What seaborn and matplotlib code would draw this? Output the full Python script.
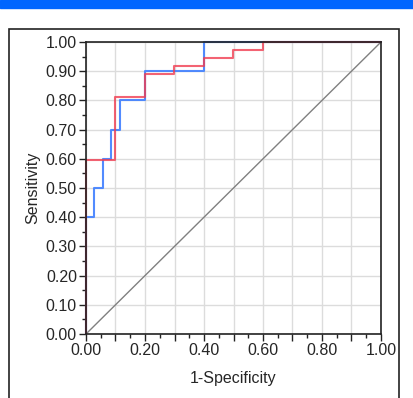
import numpy as np
import matplotlib
matplotlib.use("Agg")
import matplotlib.pyplot as plt
import matplotlib.patches as patches
from matplotlib.ticker import MultipleLocator, FuncFormatter
import seaborn as sns

# ROC points (1-specificity, sensitivity), drawn as steps
blue_fpr = [0.0, 0.0, 0.0286, 0.0571, 0.0857, 0.1143, 0.2, 0.4, 1.0]
blue_tpr = [0.0, 0.4, 0.5, 0.6, 0.7, 0.8, 0.9, 1.0, 1.0]
red_fpr = [0.0, 0.0, 0.1, 0.2, 0.3, 0.4, 0.5, 0.6, 1.0]
red_tpr = [0.0, 0.5946, 0.8108, 0.8919, 0.9189, 0.9459, 0.973, 1.0, 1.0]
ref_line = [0.0, 1.0]

sns.set_style("white")
plt.rcParams['font.family'] = ['Liberation Sans', 'DejaVu Sans']

fig = plt.figure(figsize=(4.14, 3.98), dpi=100)
ax = fig.add_axes([86/414, 1-334/398, 295/414, 292/398])

# header bar and outer frame
fig.patches.append(patches.Rectangle((0, 1-7.5/398), 1, 7.5/398, transform=fig.transFigure,
                                     color="#0066ff", zorder=0))
fig.patches.append(patches.Rectangle((9/414, -0.05), 390/414, 1.05-29/398, transform=fig.transFigure,
                                     fill=False, edgecolor="#222222", linewidth=1.2, zorder=0))

sns.lineplot(x=ref_line, y=ref_line, color="#808080", linewidth=1, ax=ax)
sns.lineplot(x=blue_fpr, y=blue_tpr, color="#3f7fff", linewidth=1.5, alpha=0.9,
             drawstyle="steps-post", estimator=None, sort=False, ax=ax, clip_on=False)
sns.lineplot(x=red_fpr, y=red_tpr, color="#f03c50", linewidth=1.5, alpha=0.8,
             drawstyle="steps-post", estimator=None, sort=False, ax=ax, clip_on=False)

ax.set_xlim(0, 1)
ax.set_ylim(0, 1)
ax.xaxis.set_major_locator(MultipleLocator(0.1))
ax.xaxis.set_minor_locator(MultipleLocator(0.05))
ax.yaxis.set_major_locator(MultipleLocator(0.1))
ax.yaxis.set_minor_locator(MultipleLocator(0.05))
ax.xaxis.set_major_formatter(FuncFormatter(
    lambda v, p: f"{v:.2f}" if round(v * 10) % 2 == 0 else ""))
ax.yaxis.set_major_formatter(FuncFormatter(lambda v, p: f"{v:.2f}"))
ax.tick_params(which="major", direction="out", length=5, width=1, color="#222222",
               labelsize=11.5, bottom=True, left=True, pad=1.5)
ax.tick_params(which="minor", direction="out", length=3, width=1, color="#222222",
               bottom=True, left=True)

ax.grid(True, which="major", color="#dcdcdc", linewidth=1)
ax.set_axisbelow(True)
for s in ax.spines.values():
    s.set_color("#222222")
    s.set_linewidth(1.2)

ax.set_xlabel("1-Specificity", fontsize=11.5, labelpad=9)
ax.set_ylabel("Sensitivity", fontsize=11.5, labelpad=4)

fig.savefig("out.png", dpi=100)
